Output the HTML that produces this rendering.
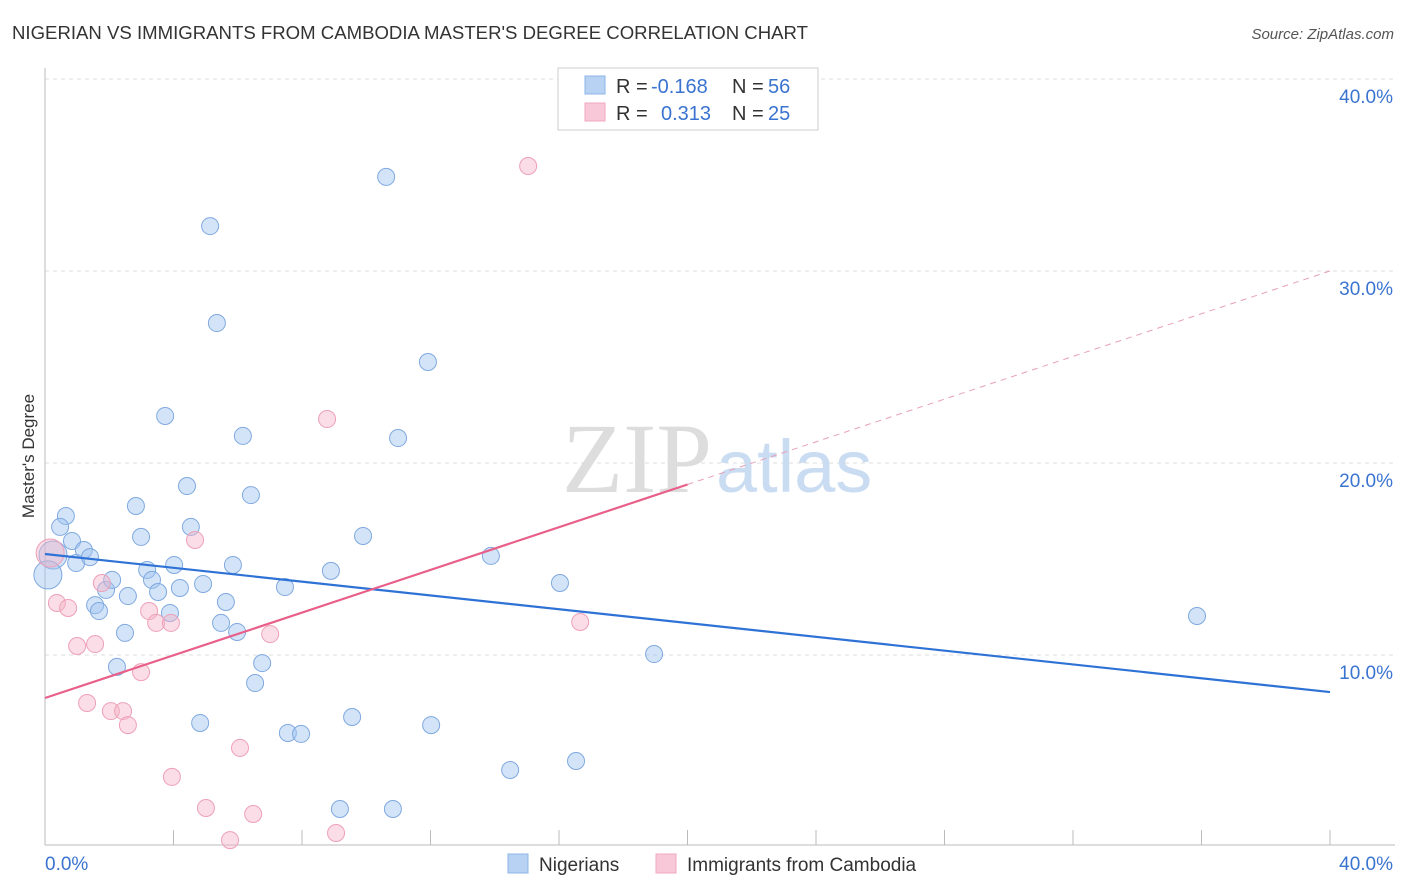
<!DOCTYPE html>
<html><head><meta charset="utf-8"><style>
body{margin:0;background:#fff;font-family:"Liberation Sans",sans-serif}
svg{display:block}
</style></head><body>
<svg id="chart" width="1406" height="892">
<text x="12" y="39" font-size="18" fill="#333" textLength="796" lengthAdjust="spacingAndGlyphs">NIGERIAN VS IMMIGRANTS FROM CAMBODIA MASTER'S DEGREE CORRELATION CHART</text>
<text x="1394" y="39" font-size="15" fill="#555" font-style="italic" text-anchor="end">Source: ZipAtlas.com</text>
<text x="0" y="0" transform="translate(34,456) rotate(-90)" font-size="17" fill="#333" text-anchor="middle">Master's Degree</text>
<g id="grid"></g>
<text x="712" y="492" font-size="100" fill="#ddd" text-anchor="end" font-family="Liberation Serif">ZIP</text>
<text x="716" y="492" font-size="74" fill="#c9dcf2">atlas</text>
<g id="pts"></g>
<g id="lines"></g>
<g>
<rect x="558" y="68" width="260" height="62" fill="#fff" stroke="#ccc"/>
<rect x="585" y="76" width="20" height="18" fill="#b8d2f4" stroke="#8db4e8"/>
<rect x="585" y="103" width="20" height="18" fill="#f9c8d8" stroke="#f0a8c0"/>
<text x="616" y="93" font-size="20" fill="#333">R =</text>
<text x="651" y="93" font-size="20" fill="#3a74d0">-0.168</text>
<text x="732" y="93" font-size="20" fill="#333">N =</text>
<text x="768" y="93" font-size="20" fill="#3a74d0">56</text>
<text x="616" y="120" font-size="20" fill="#333">R =</text>
<text x="661" y="120" font-size="20" fill="#3a74d0">0.313</text>
<text x="732" y="120" font-size="20" fill="#333">N =</text>
<text x="768" y="120" font-size="20" fill="#3a74d0">25</text>
</g>
<g>
<rect x="508" y="854" width="20" height="19" fill="#b8d2f4" stroke="#8db4e8"/>
<text x="539" y="871" font-size="19" fill="#333">Nigerians</text>
<rect x="656" y="854" width="20" height="19" fill="#f9c8d8" stroke="#f0a8c0"/>
<text x="687" y="871" font-size="19" fill="#333">Immigrants from Cambodia</text>
</g>
</svg>
<script>
const yTicks=[10,20,30,40];
const xTickLabels=["0.0%","40.0%"];
const blueX=[0.25,0.09,0.65,0.47,0.84,0.97,1.21,1.40,1.56,1.68,1.90,2.09,2.24,2.49,2.58,2.83,2.99,3.18,3.33,3.52,3.74,3.89,4.02,4.20,4.42,4.54,4.83,4.92,5.14,5.35,5.48,5.63,5.85,5.98,6.16,6.41,6.54,6.76,7.47,7.56,7.97,8.90,9.18,9.56,9.90,10.62,10.83,10.99,11.92,12.02,13.88,14.48,16.03,16.53,18.96,35.86];
const blueY=[15.21,14.17,17.24,16.67,15.94,14.79,15.47,15.10,12.60,12.29,13.39,13.91,9.38,11.15,13.07,17.76,16.15,14.43,13.91,13.28,22.45,12.19,14.69,13.49,18.80,16.67,6.46,13.70,32.34,27.29,11.67,12.76,14.69,11.20,21.41,18.33,8.54,9.58,13.54,5.94,5.89,14.38,1.98,6.77,16.20,34.90,1.98,21.30,25.26,6.35,15.16,4.01,13.75,4.48,10.05,12.03];
const pinkX=[0.16,0.37,0.72,1.00,1.31,1.56,1.77,2.05,2.43,2.58,2.99,3.24,3.46,3.92,3.95,4.67,5.01,5.76,6.07,6.48,7.01,8.78,9.06,15.04,16.66];
const pinkY=[15.31,12.71,12.45,10.47,7.50,10.57,13.75,7.08,7.08,6.35,9.11,12.29,11.67,11.67,3.65,15.99,2.03,0.36,5.16,1.72,11.09,22.29,0.73,35.47,11.72];
const blueTrend=[15.26,8.07];
const pinkTrend=[7.76,30.0];
const NS="http://www.w3.org/2000/svg";
const sx=v=>45+v/40*1285, sy=v=>847-v*19.2;
function mk(p,tag,a){const e=document.createElementNS(NS,tag);for(const k in a)e.setAttribute(k,a[k]);p.appendChild(e);return e;}
const g=document.getElementById('grid');
yTicks.forEach(t=>{
 const l=mk(g,'line',{x1:45,x2:1395,y1:sy(t),y2:sy(t),stroke:'#ddd','stroke-dasharray':'4,4'});
 
 
 const tx=mk(g,'text',{x:1393,y:sy(t)+24,'font-size':19,fill:'#3a74d0','text-anchor':'end'});
 tx.textContent=t.toFixed(1)+'%';
 
 
});
mk(g,'line',{x1:45,x2:45,y1:68,y2:845,stroke:'#bbb'});
mk(g,'line',{x1:45,x2:1395,y1:845,y2:845,stroke:'#bbb'});
for(let i=0;i<=10;i++){mk(g,'line',{x1:sx(i*4),x2:sx(i*4),y1:830,y2:845,stroke:'#bbb'});}
const xl0=mk(g,'text',{x:45,y:870,'font-size':19,fill:'#3a74d0'});xl0.textContent=xTickLabels[0];


const xl1=mk(g,'text',{x:1393,y:870,'font-size':19,fill:'#3a74d0','text-anchor':'end'});xl1.textContent=xTickLabels[1];


const P=document.getElementById('pts');
blueX.forEach((x,i)=>{const c=mk(P,'circle',{cx:sx(x),cy:sy(blueY[i]),r:i<2?14:8.5,fill:'rgba(160,195,240,0.45)',stroke:'#7fa9e0','stroke-width':1});
 
 });
pinkX.forEach((x,i)=>{const c=mk(P,'circle',{cx:sx(x),cy:sy(pinkY[i]),r:i<1?14:8.5,fill:'rgba(245,180,200,0.45)',stroke:'#eea0b8','stroke-width':1});
 
 });
const L=document.getElementById('lines');
const bl=mk(L,'line',{x1:sx(0),y1:sy(blueTrend[0]),x2:sx(40),y2:sy(blueTrend[1]),stroke:'#2f72d6','stroke-width':2.2});


const xm=20, ym=pinkTrend[0]+(pinkTrend[1]-pinkTrend[0])*xm/40;
const pl=mk(L,'line',{x1:sx(0),y1:sy(pinkTrend[0]),x2:sx(xm),y2:sy(ym),stroke:'#e8608a','stroke-width':2.2});


const pd=mk(L,'line',{x1:sx(xm),y1:sy(ym),x2:sx(40),y2:sy(pinkTrend[1]),stroke:'#e8a0b8','stroke-width':1,'stroke-dasharray':'6,5'});


</script>
</body></html>
